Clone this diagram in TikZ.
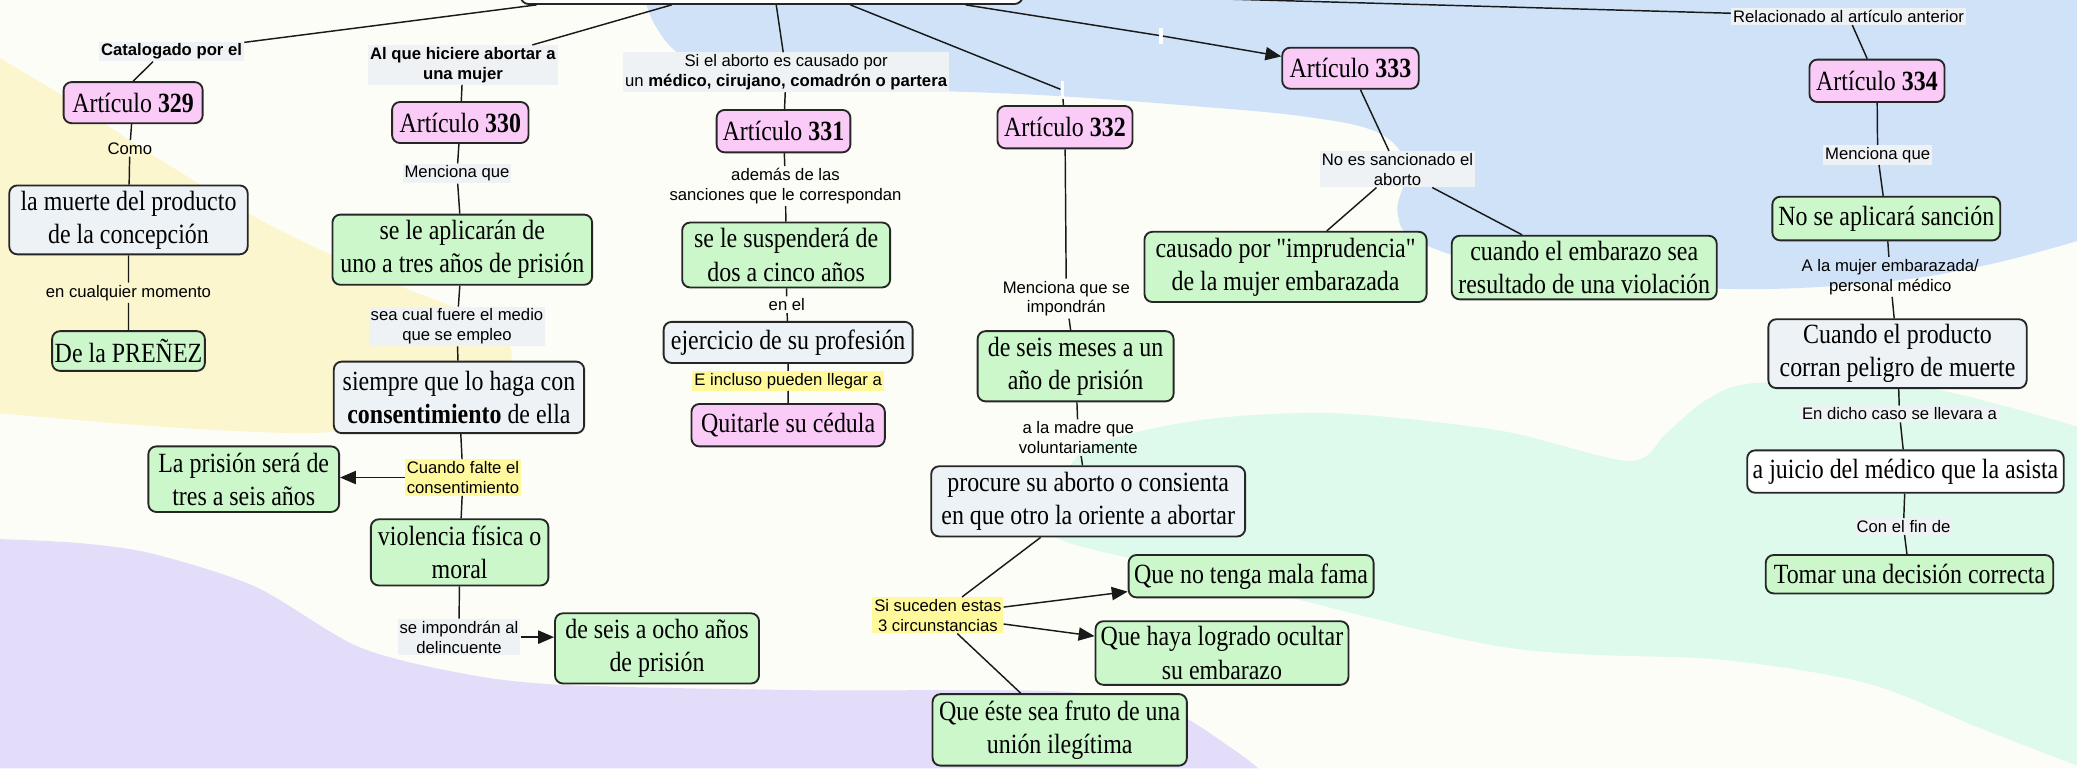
\documentclass[tikz,border=0pt]{standalone}
\usepackage{fontspec}
\newfontfamily\boxfont[FakeStretch=0.86]{Liberation Serif}
\newfontfamily\lblfont{Liberation Sans}
\usetikzlibrary{arrows.meta}
\definecolor{pagebg}{HTML}{FDFDF8}
\definecolor{blobyellow}{HTML}{FBF6CE}
\definecolor{blobblue}{HTML}{CFE2F8}
\definecolor{bloblilac}{HTML}{E3DDFA}
\definecolor{blobmint}{HTML}{DDFAEC}
\definecolor{artpink}{HTML}{FBCBF8}
\definecolor{factgreen}{HTML}{CCF7CA}
\definecolor{ideagray}{HTML}{EDF2F6}
\definecolor{lblgray}{HTML}{EEF2F5}
\definecolor{lblyellow}{HTML}{FFF99C}
\begin{document}
\begin{tikzpicture}[x=1pt, y=-1pt, line join=round, >={Triangle[length=12pt,width=10pt]},
	cbox/.style={draw=black!85, line width=1.4pt, rounded corners=6pt, align=center, inner sep=2pt, font=\boxfont\fontsize{21}{25}\selectfont},
	art/.style={cbox, fill=artpink},
	fact/.style={cbox, fill=factgreen},
	idea/.style={cbox, fill=ideagray},
	lbl/.style={align=center, inner sep=1.5pt, font=\lblfont\fontsize{12.6}{15}\selectfont},
	lblbox/.style={lbl, fill=lblgray},
	lblhi/.style={lbl, fill=lblyellow},
	linkgap/.style={fill=white, inner sep=0pt, minimum width=2.5pt, minimum height=13pt},
	link/.style={line width=1.1pt, black!90}]
	\useasboundingbox (0,0) rectangle (1568,580);
	\fill[pagebg] (0,0) rectangle (1568,580);
	% fondos
	\fill[blobyellow] plot[smooth] coordinates {(0,44) (60,80) (101,108) (200,168) (300,215) (372,245) (386,272) (360,300) (300,320) (230,327) (120,322) (0,312)} -- cycle;
	\fill[blobblue] plot[smooth, tension=0.6] coordinates {(487,0) (495,20) (515,42) (560,58) (650,66) (790,72) (900,80) (985,88) (1040,100) (1062,125) (1055,160) (1072,183) (1150,205) (1300,218) (1420,213) (1500,200) (1568,182)} -- (1568,0) -- cycle;
	\fill[bloblilac] plot[smooth] coordinates {(0,407) (60,410) (115,418) (193,443) (270,488) (347,508) (424,517) (604,521) (800,522) (880,535) (930,565) (950,580)} -- (0,580) -- cycle;
	\fill[blobmint] plot[smooth] coordinates {(1568,322) (1450,292) (1327,289) (1288,302) (1258,327) (1230,348) (1132,325) (1008,312) (907,317) (823,337) (800,370) (796,405) (900,432) (1132,488) (1299,498) (1410,516) (1493,549) (1568,578)} -- cycle;

	\node[draw=black!85, line width=1.4pt, rounded corners=6pt, fill=white, minimum width=379pt, minimum height=16pt, inner sep=0pt] (tema) at (582.5,-5) {};

	% articulo 329
	\node[lblbox] (catalog) at (129.5,39) {\textbf{Catalogado por el}};
	\node[art, minimum width=105pt, minimum height=31pt] (a329) at (100.5,77.5) {Artículo \textbf{329}};
	\node[lbl] (como) at (98,112) {Como};
	\node[idea, minimum width=180pt, minimum height=52pt] (muerte) at (97,166) {la muerte del producto\\de la concepción};
	\node[lbl] (momento) at (97,221) {en cualquier momento};
	\node[fact, minimum width=112pt, minimum height=30pt] (prenez) at (97,265) {De la PREÑEZ};

	% articulo 330
	\node[lblbox] (hiciere) at (349.5,49) {\textbf{Al que hiciere abortar a}\\\textbf{una mujer}};
	\node[art, minimum width=103pt, minimum height=31pt] (a330) at (347.5,92.5) {Artículo \textbf{330}};
	\node[lblbox] (menc330) at (345,131) {Menciona que};
	\node[fact, minimum width=196pt, minimum height=53pt] (unotres) at (349,188.5) {se le aplicarán de\\uno a tres años de prisión};
	\node[lblbox] (medio) at (345,246.5) {sea cual fuere el medio\\que se empleo};
	\node[idea, minimum width=189pt, minimum height=54pt] (consent) at (346.5,300) {siempre que lo haga con\\\textbf{consentimiento} de ella};
	\node[lblhi] (falte) at (349.5,360.5) {Cuando falte el\\consentimiento};
	\node[fact, minimum width=144pt, minimum height=49.5pt] (tresseis) at (184,361.75) {La prisión será de\\tres a seis años};
	\node[fact, minimum width=134pt, minimum height=50pt] (violencia) at (347,417) {violencia física o\\moral};
	\node[lblbox] (delinc) at (346.5,481) {se impondrán al\\delincuente};
	\node[fact, minimum width=154pt, minimum height=53pt] (seisocho) at (496,489.5) {de seis a ocho años\\de prisión};

	% articulo 331
	\node[lblbox] (medico) at (593.5,54.5) {Si el aborto es causado por\\un \textbf{médico, cirujano, comadrón o partera}};
	\node[art, minimum width=101pt, minimum height=32pt] (a331) at (591.5,99) {Artículo \textbf{331}};
	\node[lbl] (ademas) at (593,140.5) {además de las\\sanciones que le correspondan};
	\node[fact, minimum width=157pt, minimum height=49pt] (suspende) at (593.5,192.5) {se le suspenderá de\\dos a cinco años};
	\node[lbl] (enel) at (594,230) {en el};
	\node[idea, minimum width=188pt, minimum height=31pt] (ejercicio) at (595,258.5) {ejercicio de su profesión};
	\node[lblhi] (incluso) at (595,287.5) {E incluso pueden llegar a};
	\node[art, minimum width=146pt, minimum height=32pt] (cedula) at (595,321) {Quitarle su cédula};

	% articulo 332
	\node[linkgap] (gap332) at (802,68) {};
	\node[art, minimum width=102pt, minimum height=32pt] (a332) at (804,96) {Artículo \textbf{332}};
	\node[lbl] (impon) at (805,225.5) {Menciona que se\\impondrán};
	\node[fact, minimum width=148pt, minimum height=53pt] (seismeses) at (812,276.5) {de seis meses a un\\año de prisión};
	\node[lbl] (madre) at (814,330.5) {a la madre que\\voluntariamente};
	\node[idea, minimum width=237pt, minimum height=53pt] (procure) at (821.5,378.5) {procure su aborto o consienta\\en que otro la oriente a abortar};
	\node[lblhi] (circ) at (708,464.5) {Si suceden estas\\3 circunstancias};
	\node[fact, minimum width=185pt, minimum height=32pt] (fama) at (944.5,435) {Que no tenga mala fama};
	\node[fact, minimum width=191pt, minimum height=48pt] (ocultar) at (922.5,493) {Que haya logrado ocultar\\su embarazo};
	\node[fact, minimum width=192pt, minimum height=54pt] (fruto) at (800,551) {Que éste sea fruto de una\\unión ilegítima};

	% articulo 333
	\node[linkgap, minimum height=12pt] (gap333) at (876.5,27) {};
	\node[art, minimum width=103pt, minimum height=31pt] (a333) at (1019.5,51.5) {Artículo \textbf{333}};
	\node[lblbox] (nosanc) at (1055,127.75) {No es sancionado el\\aborto};
	\node[fact, minimum width=213pt, minimum height=53pt] (imprud) at (970.5,201.5) {causado por "imprudencia"\\de la mujer embarazada};
	\node[fact, minimum width=200pt, minimum height=48pt] (violacion) at (1196,202) {cuando el embarazo sea\\resultado de una violación};

	% articulo 334
	\node[lblbox] (anterior) at (1395.5,12.5) {Relacionado al artículo anterior};
	\node[art, minimum width=102pt, minimum height=32pt] (a334) at (1417,61) {Artículo \textbf{334}};
	\node[lblbox] (menc334) at (1417.5,117) {Menciona que};
	\node[fact, minimum width=172pt, minimum height=33pt] (nosancion) at (1424,165) {No se aplicará sanción};
	\node[lbl] (mujer) at (1427,209) {A la mujer embarazada/\\personal médico};
	\node[idea, minimum width=195pt, minimum height=52pt] (peligro) at (1432.5,267) {Cuando el producto\\corran peligro de muerte};
	\node[lblbox] (dicho) at (1434,312.5) {En dicho caso se llevara a};
	\node[cbox, fill=white, minimum width=239pt, minimum height=32pt] (juicio) at (1438.5,356) {a juicio del médico que la asista};
	\node[lblbox] (fin) at (1437,397.5) {Con el fin de};
	\node[fact, minimum width=217pt, minimum height=29pt] (tomar) at (1441.5,433.5) {Tomar una decisión correcta};

	\draw[link] ([xshift=-177.5pt]tema.south) -- (catalog);
	\draw[link] ([xshift=-14pt]catalog.south) -- (a329.north);
	\draw[link] (a329) -- (como) -- (muerte) -- (momento) -- (prenez);

	\draw[link] ([xshift=-75.5pt]tema.south) -- (hiciere);
	\draw[link] (hiciere) -- (a330) -- (menc330) -- (unotres) -- (medio) -- (consent) -- (falte) -- (violencia) -- (delinc);
	\draw[link,->] (falte.west) -- (falte.west -| tresseis.east);
	\draw[link,->] (delinc.east) -- (delinc.east -| seisocho.west);

	\draw[link] ([xshift=3.5pt]tema.south) -- (medico);
	\draw[link] (medico) -- (a331) -- (ademas) -- (suspende) -- (enel) -- (ejercicio) -- (incluso) -- (cedula);

	\draw[link] ([xshift=59.5pt]tema.south) -- (gap332) -- (a332) -- (impon) -- (seismeses) -- (madre) -- (procure) -- (circ) -- (fruto);
	\draw[link,->] (circ) -- (fama);
	\draw[link,->] (circ) -- (ocultar);

	\draw[link] ([xshift=146.5pt]tema.south) -- (gap333);
	\draw[link,->] (gap333) -- (a333);
	\draw[link] (a333) -- (nosanc) -- (imprud);
	\draw[link] (nosanc) -- (violacion);

	\draw[link] (tema.east) -- (anterior);
	\draw[link] (anterior) -- (a334) -- (menc334) -- (nosancion) -- (mujer) -- (peligro) -- (dicho) -- (juicio) -- (fin) -- (tomar);
\end{tikzpicture}
\end{document}
